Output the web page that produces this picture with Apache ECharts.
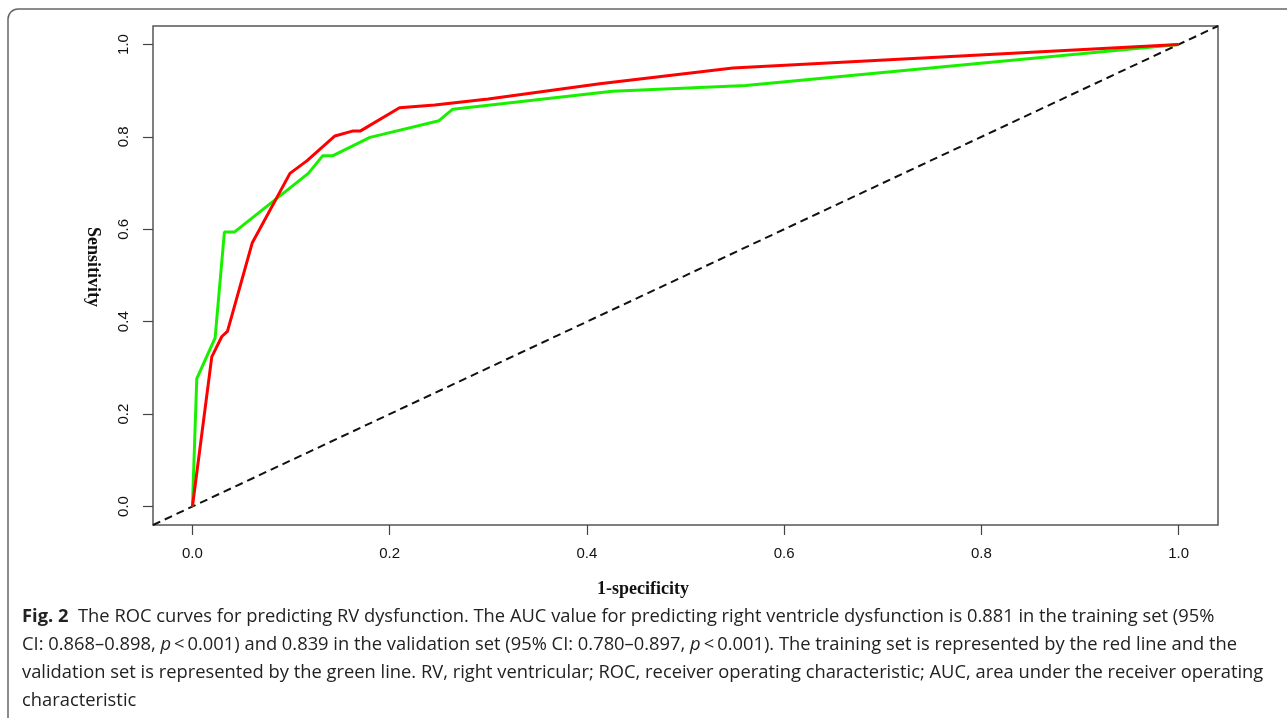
<!DOCTYPE html>
<html>
<head>
<meta charset="utf-8">
<script src="https://cdn.jsdelivr.net/npm/echarts@6/dist/echarts.min.js"></script>
<style>
html,body{margin:0;padding:0;background:#fff;}
#chart{width:1287px;height:718px;}
</style>
</head>
<body>
<div id="chart"></div>
<script>
// ---- data ----
const tickValues = [0, 0.2, 0.4, 0.6, 0.8, 1.0];
const tickLabels = ['0.0', '0.2', '0.4', '0.6', '0.8', '1.0'];

const trainX = [0, 0.0196, 0.0298, 0.0355, 0.0607, 0.0989, 0.116, 0.1445, 0.163, 0.1705, 0.210, 0.2457, 0.300, 0.413, 0.548, 1.0];
const trainY = [0, 0.324, 0.368, 0.379, 0.571, 0.721, 0.748, 0.802, 0.813, 0.813, 0.863, 0.869, 0.882, 0.915, 0.949, 1.0];

const validX = [0, 0.0044, 0.023, 0.0324, 0.0425, 0.1175, 0.132, 0.142, 0.180, 0.250, 0.264, 0.426, 0.561, 1.0];
const validY = [0, 0.277, 0.365, 0.594, 0.594, 0.721, 0.759, 0.759, 0.799, 0.835, 0.860, 0.899, 0.911, 1.0];

const refX = [-0.04, 1.04];
const refY = [-0.04, 1.04];

const xTitle = '1-specificity';
const yTitle = 'Sensitivity';
const captionLines = [
  '{b|Fig. 2}  The ROC curves for predicting RV dysfunction. The AUC value for predicting right ventricle dysfunction is 0.881 in the training set (95%',
  'CI: 0.868–0.898, {i|p}\u2009<\u20090.001) and 0.839 in the validation set (95% CI: 0.780–0.897, {i|p}\u2009<\u20090.001). The training set is represented by the red line and the',
  'validation set is represented by the green line. RV, right ventricular; ROC, receiver operating characteristic; AUC, area under the receiver operating',
  'characteristic'
];

const zip = (a, b) => a.map((v, i) => [v, b[i]]);

// caption horizontal scale to fit the reference width
const capFont = 'Open Sans';
const capSize = 18;
function plain(s){ return s.replace(/\{[bi]\|([^}]*)\}/g, '$1'); }
const ctx = document.createElement('canvas').getContext('2d');
ctx.font = capSize + 'px "' + capFont + '"';
const w1 = ctx.measureText(plain(captionLines[0])).width;
const capScale = 1190 / w1;

const chart = echarts.init(document.getElementById('chart'), null, {renderer: 'canvas'});

const axisLabelStyle = {color: '#111', fontFamily: 'Liberation Sans, Arial', fontSize: 15};
const fmt = v => tickLabels[tickValues.findIndex(t => Math.abs(t - v) < 1e-9)];

const graphics = [
  {type: 'rect', shape: {x: 8, y: 9, width: 1300, height: 720, r: 10},
   style: {fill: 'none', stroke: '#666', lineWidth: 1.5}, silent: true},
  {type: 'text', x: 643, y: 589,
   style: {text: xTitle, fontFamily: 'Liberation Serif', fontWeight: 'bold', fontSize: 18, fill: '#111',
           textAlign: 'center', textVerticalAlign: 'middle'}},
  {type: 'text', x: 93, y: 267, rotation: -Math.PI / 2,
   style: {text: yTitle, fontFamily: 'Liberation Serif', fontWeight: 'bold', fontSize: 18, fill: '#111',
           textAlign: 'center', textVerticalAlign: 'middle'}}
];
const capY = [617, 645, 673, 701];
captionLines.forEach((t, i) => {
  graphics.push({
    type: 'text', x: 22, y: capY[i], scaleX: capScale,
    style: {
      text: t, fontFamily: capFont, fontSize: capSize, fill: '#222',
      textAlign: 'left', textVerticalAlign: 'middle',
      rich: {
        b: {fontFamily: capFont, fontSize: capSize, fontWeight: 'bold', fill: '#222'},
        i: {fontFamily: capFont, fontSize: capSize, fontStyle: 'italic', fill: '#222'}
      }
    }
  });
});

chart.setOption({
  animation: false,
  backgroundColor: '#fff',
  grid: {left: 153, top: 26, right: 69, bottom: 193, show: true, borderColor: '#555', borderWidth: 1.5, backgroundColor: 'transparent'},
  xAxis: {
    type: 'value', min: -0.04, max: 1.04,
    axisLine: {show: false, onZero: false},
    splitLine: {show: false},
    axisTick: {show: true, inside: false, length: 10, lineStyle: {color: '#444', width: 1.2}, customValues: tickValues},
    axisLabel: Object.assign({margin: 21, customValues: tickValues, formatter: fmt}, axisLabelStyle)
  },
  yAxis: {
    type: 'value', min: -0.04, max: 1.04,
    axisLine: {show: false, onZero: false},
    splitLine: {show: false},
    axisTick: {show: true, inside: false, length: 10, lineStyle: {color: '#444', width: 1.2}, customValues: tickValues},
    axisLabel: Object.assign({margin: 22, rotate: 90, customValues: tickValues, formatter: fmt}, axisLabelStyle)
  },
  series: [
    {type: 'line', data: zip(refX, refY), showSymbol: false, silent: true,
     lineStyle: {color: '#111', width: 2, type: [8, 5]}, z: 1},
    {type: 'line', name: 'Validation', data: zip(validX, validY), showSymbol: false,
     lineStyle: {color: '#19f000', width: 3}, z: 2},
    {type: 'line', name: 'Training', data: zip(trainX, trainY), showSymbol: false,
     lineStyle: {color: '#ff0000', width: 3}, z: 3}
  ],
  graphic: graphics
});
</script>
</body>
</html>
